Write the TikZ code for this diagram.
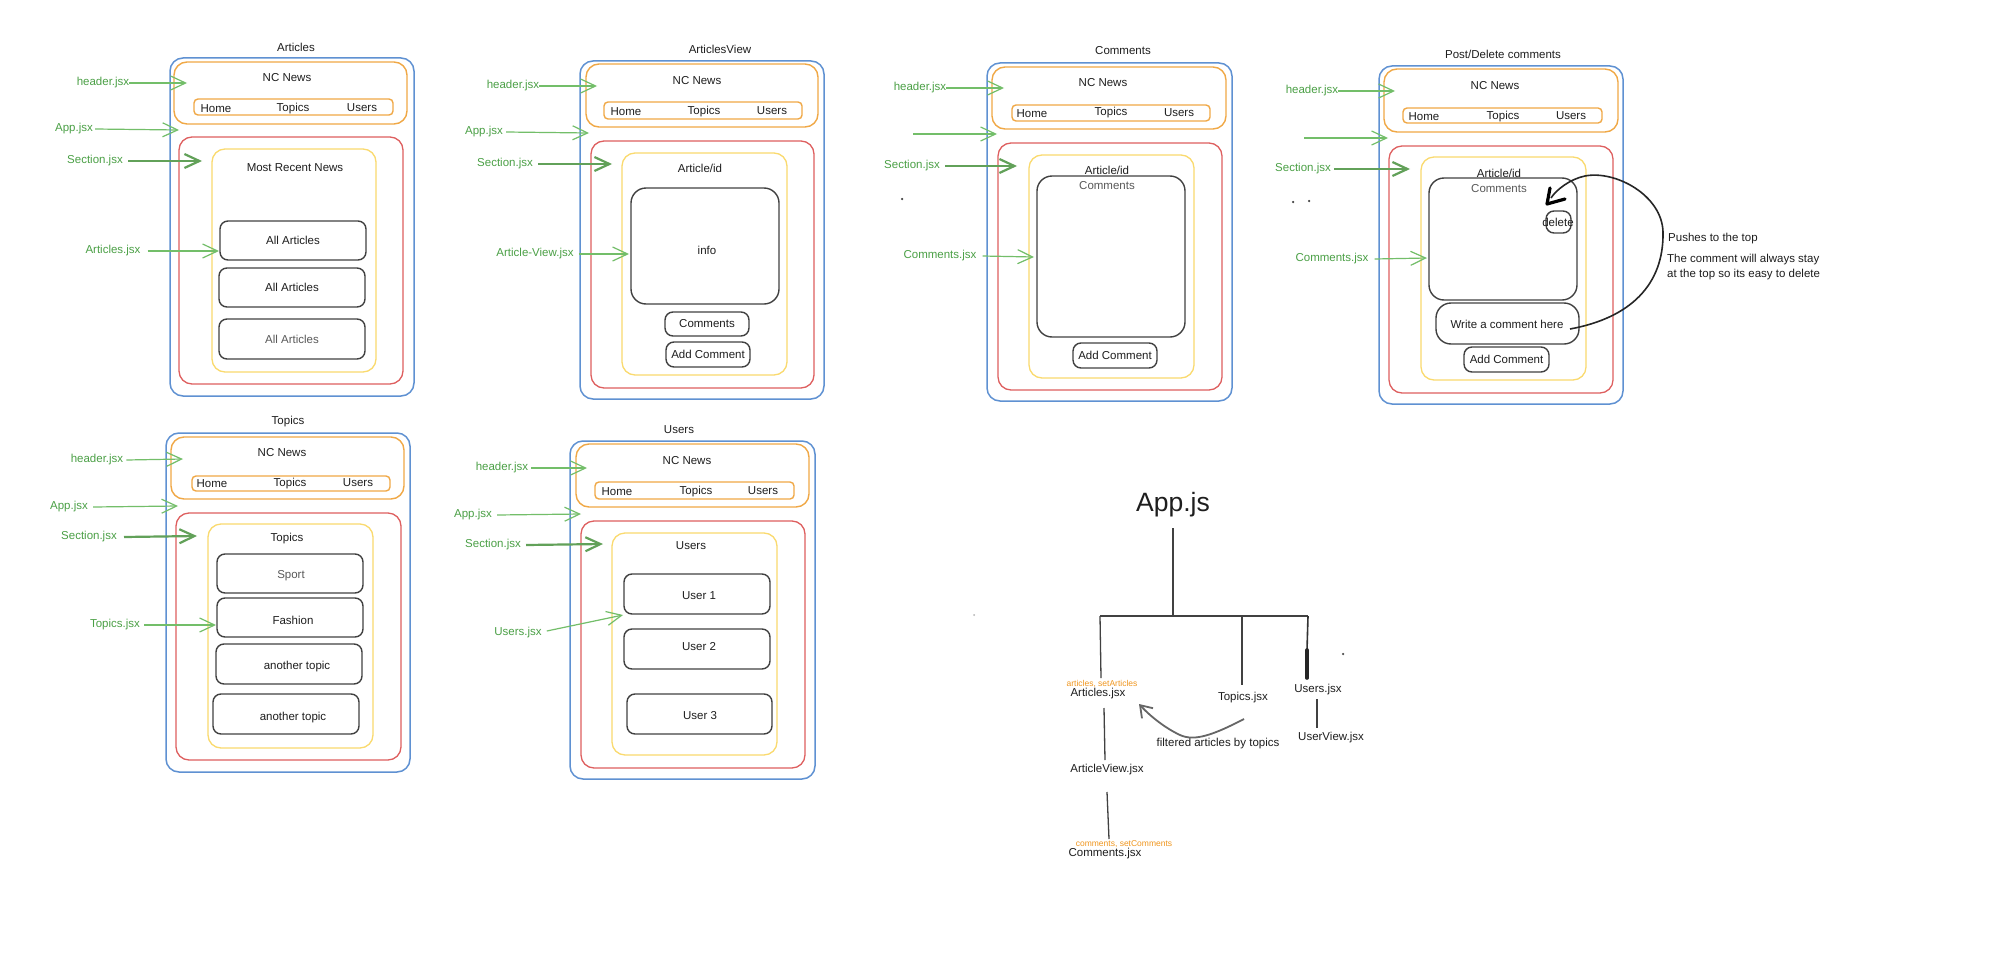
\documentclass[tikz,border=0pt]{standalone}
\usepackage{fontspec}
\setmainfont{Liberation Sans}
\usetikzlibrary{arrows.meta,fit,calc}
\definecolor{bluec}{RGB}{95,145,210}
\definecolor{orac}{RGB}{240,168,70}
\definecolor{redc}{RGB}{222,95,95}
\definecolor{yelc}{RGB}{250,218,110}
\definecolor{grnc}{RGB}{115,190,105}
\definecolor{grntxt}{RGB}{75,160,70}
\definecolor{dk}{RGB}{65,65,65}
\definecolor{ink}{RGB}{30,30,30}
\definecolor{orttxt}{RGB}{240,150,30}
\newcommand\RB[6]{\node[#1, fit={(#3,#4) (#5,#6)}] (#2) {};}
\begin{document}
\begin{tikzpicture}[x=1pt,y=-1pt,
  bluebox/.style={draw=bluec, line width=1.5pt, rounded corners=13pt, inner sep=0pt},
  orabox/.style={draw=orac, line width=1.4pt, rounded corners=13pt, inner sep=0pt},
  navbox/.style={draw=orac, line width=1.4pt, rounded corners=4pt, inner sep=0pt},
  redbox/.style={draw=redc, line width=1.3pt, rounded corners=13pt, inner sep=0pt},
  yelbox/.style={draw=yelc, line width=1.3pt, rounded corners=13pt, inner sep=0pt},
  dbox/.style={draw=dk, line width=1.4pt, rounded corners=8pt, inner sep=0pt},
  bigbox/.style={draw=dk, line width=1.4pt, rounded corners=15pt, inner sep=0pt},
  txt/.style={inner sep=0pt, text=ink, font=\fontsize{11.5}{13}\selectfont},
  gray txt/.style={inner sep=0pt, text=black!65, font=\fontsize{11.5}{13}\selectfont},
  gtxt/.style={inner sep=0pt, text=grntxt, font=\fontsize{11.5}{13}\selectfont},
  otxt/.style={inner sep=0pt, text=orttxt, font=\fontsize{8.5}{10}\selectfont},
  garrow/.style={draw=grnc, line width=1.2pt, -{Straight Barb[length=15pt,width=14pt]}},
  gthick/.style={draw=grnc!85!black, line width=2.2pt, -{Straight Barb[length=15pt,width=14pt]}},
  tline/.style={draw=dk, line width=1.3pt},
  dot/.style={circle, fill=dk, inner sep=0pt, minimum size=2.5pt}
]
\fill[white] (0,0) rectangle (2010,958);
\useasboundingbox (0,0) rectangle (2010,958);

% ================= Panel A: Articles =================
\RB{bluebox}{aBlue}{170}{58}{414}{396}
\RB{orabox}{aHead}{174}{62}{407}{124}
\RB{navbox}{aNav}{194}{99}{393}{115}
\RB{redbox}{aSec}{179}{137}{403}{384}
\RB{yelbox}{aMain}{212}{149}{376}{372}
\RB{dbox}{aB1}{220}{221}{366}{260}
\RB{dbox}{aB2}{219}{268}{365}{307}
\RB{dbox}{aB3}{219}{319}{365}{359}
\node[txt] (aTitle) at (296,47) {Articles};
\node[txt] (aNC) at (287,78) {NC News};
\node[txt] (aHome) at (216,109) {Home};
\node[txt] (aTop) at (293,109) {Topics};
\node[txt] (aUse) at (362,108) {Users};
\node[txt] (aMRN) at (295,168) {Most Recent News};
\node[txt] (aB1t) at (aB1.center) {All Articles};
\node[txt] (aB2t) at (aB2.center) {All Articles};
\node[gray txt] (aB3t) at (aB3.center) {All Articles};
\node[gtxt] (aL1) at (103,83) {header.jsx};
\node[gtxt] (aL2) at (74,129) {App.jsx};
\node[gtxt] (aL3) at (95,161) {Section.jsx};
\node[gtxt] (aL4) at (113,251) {Articles.jsx};
\coordinate (aT1) at (187,83);
\coordinate (aT2) at (179,130);
\coordinate (aT3) at (202,161);
\coordinate (aT4) at (219,251);
\draw[garrow] (aL1.east) -- (aT1);
\draw[garrow] ([xshift=2pt]aL2.east) -- (aT2);
\draw[gthick] ([xshift=5pt]aL3.east) -- (aT3);
\draw[garrow] ([xshift=7pt]aL4.east) -- (aT4);

% ================= Panel B: ArticlesView =================
\RB{bluebox}{bBlue}{580}{61}{824}{399}
\RB{orabox}{bHead}{586}{64}{818}{127}
\RB{navbox}{bNav}{604}{102}{802}{119}
\RB{redbox}{bSec}{591}{141}{814}{388}
\RB{yelbox}{bMain}{622}{153}{787}{375}
\RB{bigbox}{bInfo}{631}{188}{779}{304}
\RB{dbox}{bCom}{665}{312}{749}{336}
\RB{dbox}{bAdd}{666}{342}{750}{367}
\node[txt] (bTitle) at (720,49) {ArticlesView};
\node[txt] (bNC) at (697,81) {NC News};
\node[txt] (bHome) at (626,112) {Home};
\node[txt] (bTop) at (704,112) {Topics};
\node[txt] (bUse) at (772,111) {Users};
\node[txt] (bAid) at (700,168) {Article/id};
\node[txt] (bInfot) at (707,250) {info};
\node[txt] (bComt) at (bCom.center) {Comments};
\node[txt] (bAddt) at (bAdd.center) {Add Comment};
\node[gtxt] (bL1) at (513,86) {header.jsx};
\node[gtxt] (bL2) at (484,132) {App.jsx};
\node[gtxt] (bL3) at (505,164) {Section.jsx};
\node[gtxt] (bL4) at (535,254) {Article-View.jsx};
\coordinate (bT1) at (597,86);
\coordinate (bT2) at (589,133);
\coordinate (bT3) at (612,164);
\coordinate (bT4) at (629,254);
\draw[garrow] (bL1.east) -- (bT1);
\draw[garrow] ([xshift=3pt]bL2.east) -- (bT2);
\draw[gthick] ([xshift=5pt]bL3.east) -- (bT3);
\draw[garrow] ([xshift=5pt]bL4.east) -- (bT4);

% ================= Panel C: Comments =================
\RB{bluebox}{cBlue}{987}{63}{1232}{401}
\RB{orabox}{cHead}{992}{67}{1226}{129}
\RB{navbox}{cNav}{1012}{105}{1210}{121}
\RB{redbox}{cSec}{998}{143}{1222}{390}
\RB{yelbox}{cMain}{1029}{155}{1194}{378}
\RB{bigbox}{cList}{1037}{176}{1185}{337}
\RB{dbox}{cAdd}{1073}{343}{1157}{368}
\node[txt] (cTitle) at (1123,51) {Comments};
\node[txt] (cNC) at (1103,83) {NC News};
\node[txt] (cHome) at (1032,114) {Home};
\node[txt] (cTop) at (1111,113) {Topics};
\node[txt] (cUse) at (1179,113) {Users};
\node[txt] (cAid) at (1107,170) {Article/id};
\node[gray txt] (cComt) at (1107,186) {Comments};
\node[txt] (cAddt) at (cAdd.center) {Add Comment};
\node[gtxt] (cL1) at (920,88) {header.jsx};
\node[gtxt] (cL3) at (912,166) {Section.jsx};
\node[gtxt] (cL4) at (940,256) {Comments.jsx};
\coordinate (cS2) at (913,134);
\coordinate (cT1) at (1004,88);
\coordinate (cT2) at (997,134);
\coordinate (cT3) at (1017,166);
\coordinate (cT4) at (1034,257);
\draw[garrow] (cL1.east) -- (cT1);
\draw[garrow] (cS2) -- (cT2);
\draw[gthick] ([xshift=5pt]cL3.east) -- (cT3);
\draw[garrow] ([xshift=6pt]cL4.east) -- (cT4);
\node[dot] (cDot) at (902,199) {};

% ================= Panel D: Post/Delete comments =================
\RB{bluebox}{dBlue}{1379}{66}{1623}{404}
\RB{orabox}{dHead}{1384}{69}{1618}{132}
\RB{navbox}{dNav}{1403}{108}{1602}{123}
\RB{redbox}{dSec}{1389}{146}{1613}{393}
\RB{yelbox}{dMain}{1421}{157}{1586}{380}
\RB{bigbox}{dList}{1429}{178}{1577}{300}
\RB{dbox}{dDel}{1546}{211}{1571}{233}
\RB{bigbox}{dWrite}{1436}{303}{1579}{344}
\RB{dbox}{dAdd}{1464}{347}{1549}{372}
\node[txt] (dTitle) at (1503,54) {Post/Delete comments};
\node[txt] (dNC) at (1495,86) {NC News};
\node[txt] (dHome) at (1424,117) {Home};
\node[txt] (dTop) at (1503,117) {Topics};
\node[txt] (dUse) at (1571,116) {Users};
\node[txt] (dAid) at (1499,173) {Article/id};
\node[gray txt] (dComt) at (1499,189) {Comments};
\node[txt] (dDelt) at (1558,222) {delete};
\node[txt] (dWritet) at (1507,324) {Write a comment here};
\node[txt] (dAddt) at (dAdd.center) {Add Comment};
\node[gtxt] (dL1) at (1312,91) {header.jsx};
\node[gtxt] (dL3) at (1303,169) {Section.jsx};
\node[gtxt] (dL4) at (1332,259) {Comments.jsx};
\coordinate (dS2) at (1304,138);
\coordinate (dT1) at (1395,91);
\coordinate (dT2) at (1388,138);
\coordinate (dT3) at (1410,169);
\coordinate (dT4) at (1427,258);
\draw[garrow] (dL1.east) -- (dT1);
\draw[garrow] (dS2) -- (dT2);
\draw[gthick] ([xshift=3pt]dL3.east) -- (dT3);
\draw[garrow] ([xshift=6pt]dL4.east) -- (dT4);
\node[dot] (dDot1) at (1293,202) {};
\node[dot] (dDot2) at (1309,201) {};
\coordinate (dCs) at (1570,329);
\coordinate (dCe) at (1547,204);
\draw[draw=black!85, line width=1.6pt]
  (dCs) .. controls (1630,318) and (1664,285) .. (1663,232)
        .. controls (1662,195) and (1615,170) .. (1585,176)
        .. controls (1570,179) and (1556,190) .. (1551,198);
\draw[draw=black, line width=3.2pt, line cap=round, line join=round]
  (1550,188) -- (dCe) -- (1565,199);
\node[txt, anchor=west] (dN1) at (1668,239) {Pushes to the top};
\node[txt, anchor=west] (dN2) at (1667,260) {The comment will always stay};
\node[txt, anchor=west] (dN3) at (1667,275) {at the top so its easy to delete};

% ================= Panel E: Topics =================
\RB{bluebox}{eBlue}{166}{433}{410}{772}
\RB{orabox}{eHead}{171}{437}{404}{499}
\RB{navbox}{eNav}{192}{476}{390}{491}
\RB{redbox}{eSec}{176}{513}{401}{760}
\RB{yelbox}{eMain}{208}{524}{373}{748}
\RB{dbox}{eB1}{217}{554}{363}{593}
\RB{dbox}{eB2}{217}{598}{363}{637}
\RB{dbox}{eB3}{216}{644}{362}{684}
\RB{dbox}{eB4}{213}{694}{359}{734}
\node[txt] (eTitle) at (288,422) {Topics};
\node[txt] (eNC) at (282,453) {NC News};
\node[txt] (eHome) at (212,484) {Home};
\node[txt] (eTop) at (290,484) {Topics};
\node[txt] (eUse) at (358,483) {Users};
\node[txt] (eHead2) at (287,539) {Topics};
\node[gray txt] (eB1t) at (291,576) {Sport};
\node[txt] (eB2t) at (293,620) {Fashion};
\node[txt] (eB3t) at (297,667) {another topic};
\node[txt] (eB4t) at (293,718) {another topic};
\node[gtxt] (eL1) at (97,460) {header.jsx};
\node[gtxt] (eL2) at (69,507) {App.jsx};
\node[gtxt] (eL3) at (89,537) {Section.jsx};
\node[gtxt] (eL4) at (115,625) {Topics.jsx};
\coordinate (eT1) at (183,459);
\coordinate (eT2) at (178,506);
\coordinate (eT3) at (197,536);
\coordinate (eT4) at (216,625);
\draw[garrow] ([xshift=3pt]eL1.east) -- (eT1);
\draw[garrow] ([xshift=5pt]eL2.east) -- (eT2);
\draw[gthick] ([xshift=7pt]eL3.east) -- (eT3);
\draw[garrow] ([xshift=4pt]eL4.east) -- (eT4);

% ================= Panel F: Users =================
\RB{bluebox}{fBlue}{570}{441}{815}{779}
\RB{orabox}{fHead}{576}{444}{809}{507}
\RB{navbox}{fNav}{595}{482}{794}{499}
\RB{redbox}{fSec}{581}{521}{805}{768}
\RB{yelbox}{fMain}{612}{533}{777}{755}
\RB{dbox}{fB1}{624}{574}{770}{614}
\RB{dbox}{fB2}{624}{629}{770}{669}
\RB{dbox}{fB3}{627}{694}{772}{734}
\node[txt] (fTitle) at (679,430) {Users};
\node[txt] (fNC) at (687,461) {NC News};
\node[txt] (fHome) at (617,492) {Home};
\node[txt] (fTop) at (696,492) {Topics};
\node[txt] (fUse) at (763,491) {Users};
\node[txt] (fHead2) at (691,546) {Users};
\node[txt] (fB1t) at (699,596) {User 1};
\node[txt] (fB2t) at (699,647) {User 2};
\node[txt] (fB3t) at (700,716) {User 3};
\node[gtxt] (fL1) at (502,468) {header.jsx};
\node[gtxt] (fL2) at (473,515) {App.jsx};
\node[gtxt] (fL3) at (493,545) {Section.jsx};
\node[gtxt] (fL4) at (518,633) {Users.jsx};
\coordinate (fT1) at (587,468);
\coordinate (fT2) at (581,514);
\coordinate (fT3) at (603,544);
\coordinate (fT4) at (623,615);
\draw[garrow] ([xshift=3pt]fL1.east) -- (fT1);
\draw[garrow] ([xshift=5pt]fL2.east) -- (fT2);
\draw[gthick] ([xshift=5pt]fL3.east) -- (fT3);
\draw[garrow] ([xshift=5pt,yshift=2pt]fL4.east) -- (fT4);

% ================= Tree =================
\node[inner sep=0pt, text=ink, font=\fontsize{26.5}{30}\selectfont] (app) at (1173,505) {App.js};
\coordinate (appB) at (1173,528);
\coordinate (jMid) at (1173,616);
\coordinate (jL) at (1100,616);
\coordinate (jT) at (1242,616);
\coordinate (jR) at (1308,616);
\node[txt] (tArt) at (1098,694) {Articles.jsx};
\node[otxt] (tArtS) at (1102,684) {articles, setArticles};
\node[txt] (tTop) at (1243,698) {Topics.jsx};
\node[txt] (tUse) at (1318,690) {Users.jsx};
\node[txt] (tUV) at (1331,738) {UserView.jsx};
\node[txt] (tAV) at (1107,770) {ArticleView.jsx};
\node[otxt] (tComS) at (1124,844) {comments, setComments};
\node[txt] (tCom) at (1105,854) {Comments.jsx};
\node[txt] (tFil) at (1218,744) {filtered articles by topics};
\coordinate (tArtTop) at (1101,678);
\coordinate (tTopTop) at (1242,685);
\coordinate (tUseTop) at (1307,678);
\draw[tline] (appB) -- (jMid);
\draw[tline] (jL) -- (jR);
\draw[tline] (jL) -- (tArtTop);
\draw[tline] (jT) -- (tTopTop);
\draw[draw=black!80, line width=1.6pt] (jR) -- (1307,650);
\draw[draw=black!85, line width=3.6pt, line cap=round] (1307,650) -- (tUseTop);
\coordinate (uvA) at (1317,699);
\coordinate (uvB) at (1317,728);
\draw[tline] (uvA) -- (uvB);
\coordinate (avA) at (1104,708);
\coordinate (avB) at (1105,760);
\draw[tline] (avA) -- (avB);
\coordinate (cmA) at (1107,792);
\coordinate (cmB) at (1109,839);
\draw[tline] (cmA) -- (cmB);
\coordinate (fA) at (1244,719);
\coordinate (fB) at (1139,704);
\draw[draw=black!60, line width=1.8pt, -{Straight Barb[length=11pt,width=15pt]}]
  (fA) .. controls (1215,734) and (1195,742) .. (1180,735) .. controls (1165,728) and (1150,716) .. (fB);
\node[dot, fill=black!70] (tDot) at (1343,654) {};
\node[dot, fill=black!30, minimum size=2pt] (tDot2) at (974,615) {};
\end{tikzpicture}
\end{document}
